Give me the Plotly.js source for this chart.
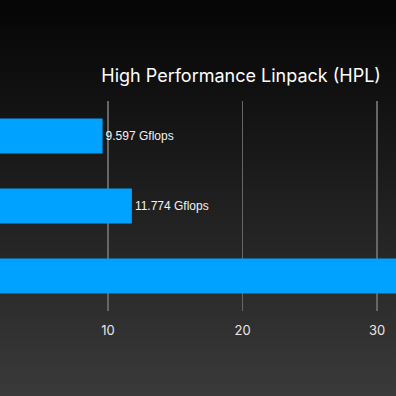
<!DOCTYPE html>
<html>
<head>
<meta charset="utf-8">
<script src="https://cdn.plot.ly/plotly-3.0.1.min.js"></script>
<style>
html,body{margin:0;padding:0;width:396px;height:396px;overflow:hidden;
background:linear-gradient(to bottom,#050505 0%,#1c1c1c 45%,#3a3a3a 100%);}
#chart{width:396px;height:396px;}
</style>
</head>
<body>
<div id="chart"></div>
<script>
var categories = ["System A", "System B", "System C"];
var values = [9.597, 11.774, 40.0];
var labels = ["9.597 Gflops", "11.774 Gflops", "40.000 Gflops"];
var tickVals = [10, 20, 30];

var trace = {
  type: "bar",
  orientation: "h",
  y: categories,
  x: values,
  text: labels,
  textposition: ["outside", "outside", "none"],
  cliponaxis: true,
  textfont: {color: "#f2f2f2", size: 12, family: "Liberation Sans, Arial, sans-serif"},
  marker: {color: "#00a2ff"},
  hoverinfo: "none"
};

var layout = {
  width: 396, height: 396,
  paper_bgcolor: "rgba(0,0,0,0)",
  plot_bgcolor: "rgba(0,0,0,0)",
  margin: {l: 0, r: 0, t: 101, b: 85, pad: 0},
  bargap: 0.5,
  showlegend: false,
  title: {
    text: "High Performance Linpack (HPL)",
    font: {color: "#ffffff", size: 18, family: "Inter, sans-serif"},
    xref: "container", yref: "container",
    x: 0.962, xanchor: "right",
    y: 0.808, yanchor: "middle"
  },
  xaxis: {
    range: [1.97, 31.41],
    tickvals: tickVals,
    ticktext: tickVals.map(String),
    showgrid: true,
    gridcolor: "#666666",
    gridwidth: 1.5,
    zeroline: false,
    showline: false,
    ticks: "",
    ticklabelstandoff: 10,
    tickfont: {color: "#e8e8e8", size: 13, family: "Inter, sans-serif"},
    fixedrange: true
  },
  yaxis: {
    autorange: "reversed",
    showticklabels: false,
    showgrid: false,
    zeroline: false,
    ticks: "",
    fixedrange: true
  }
};

Plotly.newPlot("chart", [trace], layout, {displayModeBar: false, staticPlot: true});
</script>
</body>
</html>
